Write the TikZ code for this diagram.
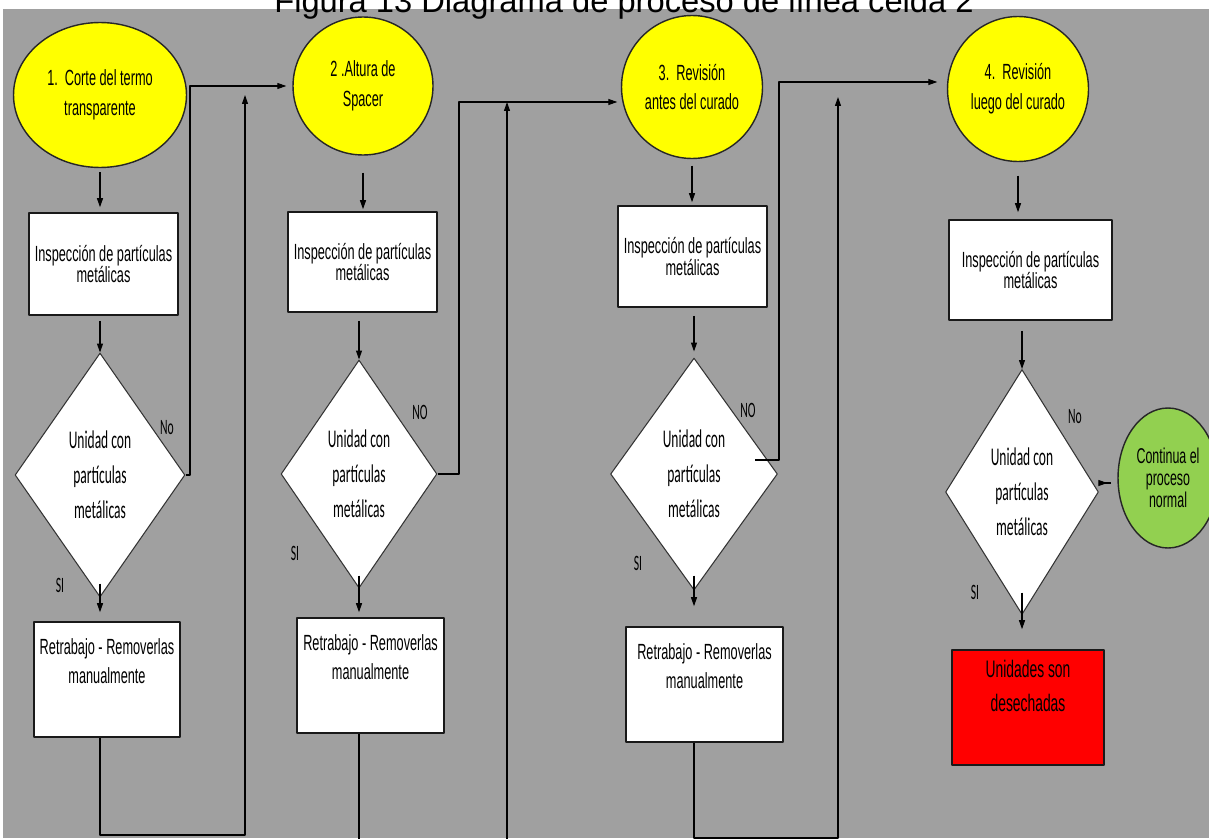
\documentclass[tikz,border=0pt]{standalone}
\usepackage{fontspec}
\setmainfont{Liberation Sans}
\newfontfamily\arialn{Liberation Sans}[FakeStretch=0.58]
\newfontfamily\calibn{Carlito}[FakeStretch=0.53]
\usetikzlibrary{shapes.geometric,arrows.meta}
\definecolor{fondo}{RGB}{160,160,160}
\definecolor{amarillo}{RGB}{255,255,0}
\definecolor{verdeclaro}{RGB}{146,208,80}
\definecolor{rojo}{RGB}{255,0,0}
\begin{document}
\begin{tikzpicture}[x=0.02cm, y=-0.02cm, line join=round, >={Triangle[length=1.8mm,width=1.2mm]},
  etapa/.style={ellipse, draw=black!85, line width=0.8pt, fill=amarillo, inner sep=0pt, align=center, font=\arialn\fontsize{12.5}{17}\selectfont},
  caja/.style={rectangle, draw=black!90, line width=0.9pt, fill=white, inner sep=0pt, align=center, font=\arialn\fontsize{12.5}{12}\selectfont},
  retrabajo/.style={caja, font=\arialn\fontsize{12.5}{16.5}\selectfont},
  decision/.style={diamond, aspect=0.7, draw=black!80, line width=0.6pt, fill=white, inner sep=0pt, align=center, font=\calibn\fontsize{14.5}{19.8}\selectfont},
  rotulo/.style={inner sep=0pt, font=\calibn\fontsize{12.5}{12}\selectfont},
  flecha/.style={->, line width=0.6pt}]
\useasboundingbox (0,0) rectangle (1209,838);
\fill[fondo] (3,9) rectangle (1209,838);
\node[anchor=base, font=\fontsize{18.6}{20}\selectfont] (titulo) at (624,13) {Figura 13 Diagrama de proceso de línea celda 2};

\node[etapa, minimum width=3.46cm, minimum height=2.9cm] (e1) at (100,95) {1.\ \ Corte del termo\\transparente};
\node[etapa, minimum width=2.8cm, minimum height=2.76cm] (e2) at (363,86) {2 .Altura de\\Spacer};
\node[etapa, minimum width=2.82cm, minimum height=2.86cm] (e3) at (692,87) {3.\ \ Revisión\\antes del curado};
\node[etapa, minimum width=2.82cm, minimum height=2.9cm] (e4) at (1018,89) {4.\ \ Revisión\\luego del curado};

\node[caja, minimum width=2.98cm, minimum height=2.04cm] (c1) at (103.5,264) {Inspección de partículas\\metálicas};
\node[caja, minimum width=2.98cm, minimum height=2cm] (c2) at (362.5,262) {Inspección de partículas\\metálicas};
\node[caja, minimum width=2.98cm, minimum height=2.02cm] (c3) at (692.5,256.5) {Inspección de partículas\\metálicas};
\node[caja, minimum width=3.26cm, minimum height=2cm] (c4) at (1030.5,270) {Inspección de partículas\\metálicas};

\node[decision, minimum width=3.4cm, minimum height=4.88cm] (d1) at (100,475) {Unidad con\\partículas\\metálicas};
\node[decision, minimum width=3.12cm, minimum height=4.56cm] (d2) at (359,474) {Unidad con\\partículas\\metálicas};
\node[decision, minimum width=3.34cm, minimum height=4.64cm] (d3) at (694,474) {Unidad con\\partículas\\metálicas};
\node[decision, minimum width=3.06cm, minimum height=4.9cm] (d4) at (1022,492) {Unidad con\\partículas\\metálicas};

\node[retrabajo, minimum width=2.92cm, minimum height=2.3cm] (r1) at (107,679.5) {Retrabajo - Removerlas\\manualmente\\\strut};
\node[retrabajo, minimum width=2.94cm, minimum height=2.3cm] (r2) at (370.5,675.5) {Retrabajo - Removerlas\\manualmente\\\strut};
\node[retrabajo, minimum width=3.14cm, minimum height=2.3cm] (r3) at (704.5,684.5) {Retrabajo - Removerlas\\manualmente\\\strut};
\node[caja, fill=rojo, font=\arialn\fontsize{13.6}{19.3}\selectfont, minimum width=3.04cm, minimum height=2.3cm] (desecho) at (1028,707.5) {Unidades son\\desechadas\\\strut};
\node[ellipse, draw=black!85, line width=0.8pt, fill=verdeclaro, inner sep=0pt, align=center, font=\arialn\fontsize{12.2}{12.5}\selectfont, minimum width=2cm, minimum height=2.8cm] (verde) at (1168,478) {Continua el\\proceso\\normal};

\node[rotulo] (no1) at (167,428) {No};
\node[rotulo] (si1) at (60,585) {SI};
\node[rotulo] (no2) at (420,412) {NO};
\node[rotulo] (si2) at (295,553) {SI};
\node[rotulo] (no3) at (748,410) {NO};
\node[rotulo] (si3) at (638,563) {SI};
\node[rotulo] (no4) at (1075,417) {No};
\node[rotulo] (si4) at (975,592) {SI};

\coordinate (p1) at (190,468);
\coordinate (p2) at (459,102);
\coordinate (p3a) at (755,460);
\coordinate (p3) at (779,82);
\coordinate (b1) at (245,835);
\coordinate (t1) at (245,95);
\coordinate (b2) at (507,845);
\coordinate (t2) at (507,102);
\coordinate (b3) at (838,838);
\coordinate (t3) at (838,97);

\draw[flecha, shorten <=0.08cm, shorten >=0.1cm] (e1.south) -- (e1.south |- c1.north);
\draw[flecha, shorten <=0.34cm, shorten >=0.04cm] (e2.south) -- (e2.south |- c2.north);
\draw[flecha, shorten <=0.13cm, shorten >=0.06cm] (e3.south) -- (e3.south |- c3.north);
\draw[flecha, shorten <=0.27cm, shorten >=0.14cm] (e4.south) -- (e4.south |- c4.north);

\draw[flecha, shorten <=0.1cm] (d1.north |- c1.south) -- (d1.north);
\draw[flecha, shorten <=0.16cm] (d2.north |- c2.south) -- (d2.north);
\draw[flecha, shorten <=0.16cm, shorten >=0.12cm] (d3.north |- c3.south) -- (d3.north);
\draw[flecha, shorten <=0.2cm] (d4.north |- c4.south) -- (d4.north);

\draw[flecha, shorten <=-0.28cm, shorten >=0.18cm] (d1.south) -- (d1.south |- r1.north);
\draw[flecha, shorten <=-0.26cm, shorten >=0.1cm] (d2.south) -- (d2.south |- r2.north);
\draw[flecha, shorten <=-0.3cm, shorten >=0.4cm] (d3.south) -- (d3.south |- r3.north);
\draw[flecha, shorten <=-0.45cm, shorten >=0.4cm] (d4.south) -- (d4.south |- desecho.north);

\draw[flecha, shorten >=0.12cm] (d1.east) -| (p1) |- (e2.west);
\draw[flecha, shorten >=0.07cm] (d2.east) -| (p2) -- (p2 -| e3.west);
\draw[flecha, shorten >=0.19cm] (p3a) -| (p3) -- (p3 -| e4.west);
\draw[flecha, shorten <=-0.24cm, shorten >=0.2cm] ([yshift=0.18cm]d4.east) -- ([yshift=0.18cm]d4.east -| verde.west);

\draw[flecha] (r1.south -| d1.south) |- (b1) -- (t1);
\draw[flecha] (r2.south -| d2.south) |- (b2) -- (t2);
\draw[flecha] (r3.south -| d3.south) |- (b3) -- (t3);
\end{tikzpicture}
\end{document}
